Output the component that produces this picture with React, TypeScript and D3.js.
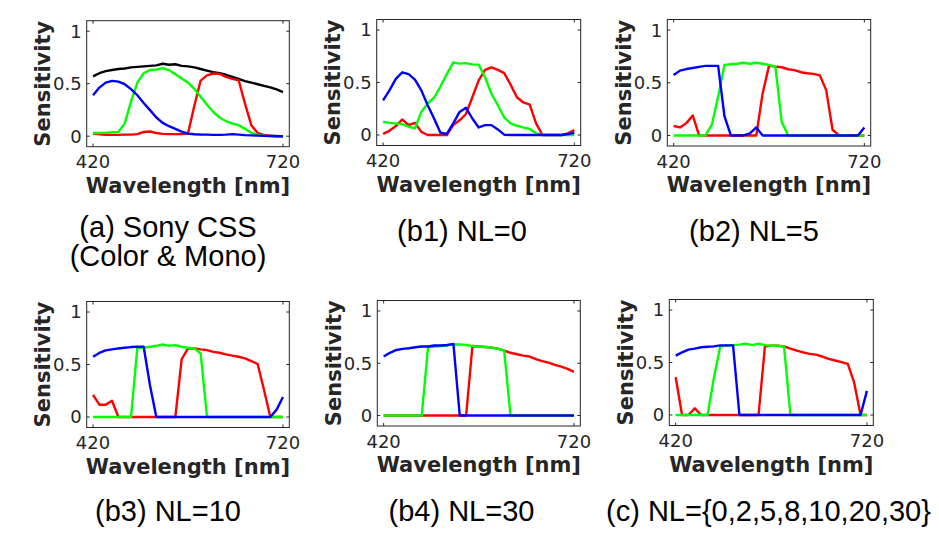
import React, { useEffect } from "react";
import * as d3 from "d3";

const WL = [420, 430, 440, 450, 460, 470, 480, 490, 500, 510, 520, 530, 540, 550, 560, 570, 580, 590, 600, 610, 620, 630, 640, 650, 660, 670, 680, 690, 700, 710, 720];
const X_TICKS = [420, 720];
const Y_TICKS = [0, 0.5, 1];
const Y_TICK_LABELS = ["0", "0.5", "1"];

// (a) Sony CSS
const monoA = [0.57, 0.6, 0.62, 0.63, 0.64, 0.645, 0.655, 0.66, 0.665, 0.67, 0.675, 0.69, 0.68, 0.685, 0.67, 0.665, 0.655, 0.64, 0.625, 0.61, 0.6, 0.585, 0.565, 0.545, 0.525, 0.51, 0.495, 0.48, 0.465, 0.445, 0.42];
const redA = [0.025, 0.018, 0.013, 0.013, 0.013, 0.015, 0.015, 0.02, 0.04, 0.045, 0.03, 0.022, 0.02, 0.02, 0.02, 0.025, 0.29, 0.53, 0.58, 0.597, 0.594, 0.565, 0.546, 0.533, 0.31, 0.105, 0.03, 0.013, 0.005, 0.002, 0];
const greenA = [0.03, 0.03, 0.032, 0.038, 0.04, 0.12, 0.33, 0.51, 0.6, 0.63, 0.635, 0.648, 0.63, 0.59, 0.55, 0.51, 0.45, 0.375, 0.3, 0.23, 0.178, 0.143, 0.12, 0.105, 0.07, 0.032, 0.013, 0.005, 0.002, 0, 0];
const blueA = [0.39, 0.463, 0.51, 0.527, 0.52, 0.495, 0.448, 0.39, 0.317, 0.248, 0.178, 0.127, 0.095, 0.07, 0.044, 0.025, 0.019, 0.016, 0.015, 0.013, 0.013, 0.015, 0.02, 0.015, 0.01, 0.008, 0.005, 0.003, 0.002, 0, 0];

// (b1) NL=0
const redB1 = [0.01, 0.04, 0.085, 0.148, 0.094, 0.116, 0.03, 0, 0, 0, 0, 0.094, 0.14, 0.2, 0.36, 0.52, 0.62, 0.645, 0.62, 0.59, 0.48, 0.36, 0.31, 0.29, 0.11, 0, 0, 0, 0, 0.016, 0.047];
const greenB1 = [0.126, 0.116, 0.11, 0.104, 0.079, 0.063, 0.22, 0.3, 0.355, 0.462, 0.58, 0.69, 0.68, 0.685, 0.673, 0.67, 0.55, 0.393, 0.283, 0.167, 0.11, 0.088, 0.072, 0.057, 0.016, 0, 0, 0, 0, 0, 0];
const blueB1 = [0.33, 0.425, 0.535, 0.597, 0.58, 0.528, 0.425, 0.283, 0.157, 0.022, 0.01, 0.11, 0.22, 0.26, 0.157, 0.072, 0.094, 0.094, 0.053, 0.003, 0, 0, 0, 0, 0, 0, 0, 0, 0, 0.01, 0.02];

// (b2) NL=5
const redB2 = [0.09, 0.076, 0.117, 0.19, 0, 0, 0, 0, 0, 0, 0, 0, 0, 0, 0.4, 0.66, 0.653, 0.647, 0.628, 0.62, 0.6, 0.59, 0.584, 0.57, 0.43, 0.054, 0, 0, 0, 0, 0];
const greenB2 = [0, 0, 0, 0, 0, 0, 0.1, 0.37, 0.67, 0.675, 0.68, 0.69, 0.68, 0.69, 0.68, 0.67, 0.653, 0.13, 0, 0, 0, 0, 0, 0, 0, 0, 0, 0, 0, 0, 0];
const blueB2 = [0.574, 0.615, 0.63, 0.64, 0.65, 0.66, 0.66, 0.66, 0.18, 0, 0, 0, 0.02, 0.076, 0, 0, 0, 0, 0, 0, 0, 0, 0, 0, 0, 0, 0, 0, 0, 0, 0.076];

// (b3) NL=10
const redB3 = [0.21, 0.117, 0.117, 0.155, 0, 0, 0, 0, 0, 0, 0, 0, 0, 0, 0.55, 0.653, 0.653, 0.644, 0.637, 0.62, 0.612, 0.596, 0.584, 0.574, 0.558, 0.533, 0.505, 0.26, 0, 0, 0];
const greenB3 = [0, 0, 0, 0, 0, 0, 0, 0.66, 0.66, 0.669, 0.678, 0.69, 0.678, 0.685, 0.669, 0.66, 0.653, 0.605, 0, 0, 0, 0, 0, 0, 0, 0, 0, 0, 0, 0, 0];
const blueB3 = [0.574, 0.61, 0.634, 0.644, 0.653, 0.66, 0.666, 0.669, 0.669, 0.3, 0, 0, 0, 0, 0, 0, 0, 0, 0, 0, 0, 0, 0, 0, 0, 0, 0, 0, 0, 0.07, 0.19];

// (b4) NL=30
const redB4 = [0, 0, 0, 0, 0, 0, 0, 0, 0, 0, 0, 0, 0, 0, 0.665, 0.66, 0.655, 0.65, 0.64, 0.62, 0.6, 0.586, 0.573, 0.564, 0.54, 0.52, 0.506, 0.484, 0.468, 0.446, 0.417];
const greenB4 = [0, 0, 0, 0, 0, 0, 0, 0.653, 0.66, 0.665, 0.67, 0.68, 0.68, 0.675, 0.665, 0.66, 0.655, 0.65, 0.64, 0.62, 0, 0, 0, 0, 0, 0, 0, 0, 0, 0, 0];
const blueB4 = [0.564, 0.6, 0.627, 0.637, 0.643, 0.653, 0.66, 0.66, 0.67, 0.67, 0.675, 0.685, 0, 0, 0, 0, 0, 0, 0, 0, 0, 0, 0, 0, 0, 0, 0, 0, 0, 0, 0];

// (c) NL={0,2,5,8,10,20,30}
const redC = [0.36, 0, 0, 0.063, 0, 0, 0, 0, 0, 0, 0, 0, 0, 0, 0.654, 0.66, 0.66, 0.654, 0.632, 0.613, 0.597, 0.582, 0.575, 0.557, 0.535, 0.519, 0.503, 0.487, 0.308, 0, 0];
const greenC = [0, 0, 0, 0, 0, 0, 0.355, 0.654, 0.66, 0.665, 0.67, 0.68, 0.665, 0.68, 0.665, 0.66, 0.66, 0.65, 0, 0, 0, 0, 0, 0, 0, 0, 0, 0, 0, 0, 0];
const blueC = [0.566, 0.597, 0.623, 0.632, 0.645, 0.65, 0.654, 0.663, 0.663, 0.663, 0, 0, 0, 0, 0, 0, 0, 0, 0, 0, 0, 0, 0, 0, 0, 0, 0, 0, 0, 0, 0.23];

const CAPTIONS = [
  ["(a) Sony CSS", "(Color & Mono)"],
  ["(b1) NL=0"],
  ["(b2) NL=5"],
  ["(b3) NL=10"],
  ["(b4) NL=30"],
  ["(c) NL={0,2,5,8,10,20,30}"],
];

const PANEL_SERIES = [
  [monoA, redA, greenA, blueA],
  [redB1, greenB1, blueB1],
  [redB2, greenB2, blueB2],
  [redB3, greenB3, blueB3],
  [redB4, greenB4, blueB4],
  [redC, greenC, blueC],
];

const PANEL_COLORS = [
  ["#000000", "#ff0000", "#00ff00", "#0000ff"],
  ["#ff0000", "#00ff00", "#0000ff"],
  ["#ff0000", "#00ff00", "#0000ff"],
  ["#ff0000", "#00ff00", "#0000ff"],
  ["#ff0000", "#00ff00", "#0000ff"],
  ["#ff0000", "#00ff00", "#0000ff"],
];

// layout: axes box [left, top, right, bottom], caption centre x & baseline
const LAYOUT = [
  { box: [86.7, 20.7, 289.3, 146.7], cx: 168, cy: 236.5, lh: 29 },
  { box: [376.7, 19.5, 580.7, 145.5], cx: 462, cy: 241, lh: 29 },
  { box: [667.3, 19.5, 870.7, 146], cx: 754, cy: 241, lh: 29 },
  { box: [86.7, 301.5, 289.3, 427.5], cx: 168, cy: 521, lh: 29 },
  { box: [377.3, 300.5, 580.3, 426], cx: 461.5, cy: 521, lh: 29 },
  { box: [669.3, 299.5, 873.3, 425.5], cx: 768.5, cy: 521, lh: 29 },
];

const AXC = "#262626";

function Panel({ idx }: { idx: number }) {
  const { box, cx, cy, lh } = LAYOUT[idx];
  const [l, t, r, b] = box;
  const x = d3.scaleLinear().domain([410, 730]).range([l, r]);
  const y = d3.scaleLinear().domain([-0.1, 1.1]).range([b, t]);
  const line = d3
    .line<number>()
    .x((_, i) => x(WL[i]))
    .y((v) => y(v));
  const tl = 3;
  return (
    <g>
      <rect x={l} y={t} width={r - l} height={b - t} fill="#ffffff" />
      <g clipPath={`url(#clip${idx})`}>
        {PANEL_SERIES[idx].map((s, k) => (
          <path
            key={k}
            d={line(s) || ""}
            fill="none"
            stroke={PANEL_COLORS[idx][k]}
            strokeWidth={2.4}
            strokeLinejoin="round"
          />
        ))}
      </g>
      <rect x={l} y={t} width={r - l} height={b - t} fill="none" stroke={AXC} strokeWidth={1} />
      {X_TICKS.map((v) => (
        <g key={"xt" + v}>
          <line x1={x(v)} x2={x(v)} y1={b} y2={b - tl} stroke={AXC} />
          <line x1={x(v)} x2={x(v)} y1={t} y2={t + tl} stroke={AXC} />
          <text
            x={x(v)}
            y={b + 21.6}
            textAnchor="middle"
            fontFamily="DejaVu Sans"
            fontSize={18}
            fill={AXC}
          >
            {v}
          </text>
        </g>
      ))}
      {Y_TICKS.map((v, i) => (
        <g key={"yt" + v}>
          <line x1={l} x2={l + tl} y1={y(v)} y2={y(v)} stroke={AXC} />
          <line x1={r} x2={r - tl} y1={y(v)} y2={y(v)} stroke={AXC} />
          <text
            x={l - 5}
            y={y(v)}
            dy="0.36em"
            textAnchor="end"
            fontFamily="DejaVu Sans"
            fontSize={18}
            fill={AXC}
          >
            {Y_TICK_LABELS[i]}
          </text>
        </g>
      ))}
      <text
        x={(l + r) / 2}
        y={b + 46}
        textAnchor="middle"
        fontFamily="DejaVu Sans"
        fontWeight="bold"
        fontSize={21}
        fill={AXC}
      >
        Wavelength [nm]
      </text>
      <text
        transform={`translate(${l - 36.7},${(t + b) / 2}) rotate(-90)`}
        textAnchor="middle"
        fontFamily="DejaVu Sans"
        fontWeight="bold"
        fontSize={21}
        fill={AXC}
      >
        Sensitivity
      </text>
      {CAPTIONS[idx].map((c, k) => (
        <text
          key={k}
          x={cx}
          y={cy + k * lh}
          textAnchor="middle"
          fontFamily="Liberation Sans"
          fontSize={29}
          fill="#000000"
        >
          {c}
        </text>
      ))}
    </g>
  );
}

export default function App() {
  useEffect(() => {
    document.body.style.margin = "0";
  }, []);
  return (
    <svg
      width={939}
      height={541}
      style={{ position: "absolute", left: 0, top: 0, background: "#ffffff" }}
    >
      <defs>
        {LAYOUT.map((p, i) => (
          <clipPath id={`clip${i}`} key={i}>
            <rect x={p.box[0]} y={p.box[1]} width={p.box[2] - p.box[0]} height={p.box[3] - p.box[1]} />
          </clipPath>
        ))}
      </defs>
      <rect x={0} y={0} width={939} height={541} fill="#ffffff" />
      {LAYOUT.map((_, i) => (
        <Panel key={i} idx={i} />
      ))}
    </svg>
  );
}
